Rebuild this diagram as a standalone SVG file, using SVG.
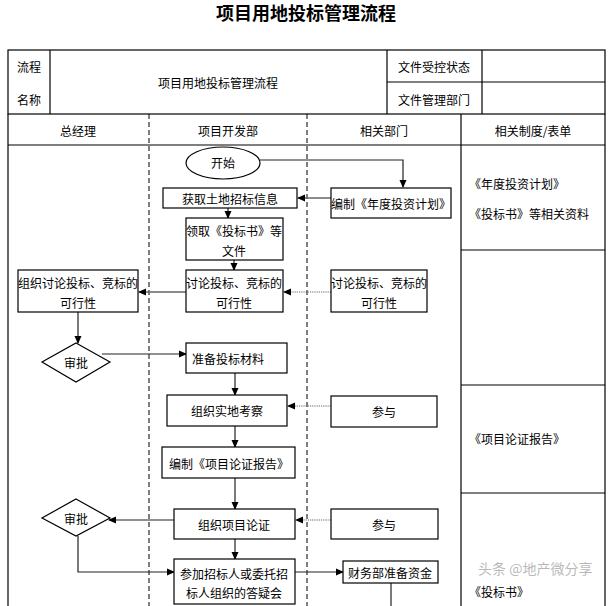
<svg xmlns="http://www.w3.org/2000/svg" width="613" height="606" viewBox="0 0 613 606">
<style>
.t{font-family:"Noto Sans CJK SC","Noto Sans",sans-serif;font-size:12px;fill:#000;text-anchor:middle;dominant-baseline:central}
.s{text-anchor:start}
.ttl{font-family:"Noto Sans CJK SC",serif;font-size:18px;font-weight:bold;fill:#000;text-anchor:middle;dominant-baseline:central}
.b{fill:#fff;stroke:#000;stroke-width:1.2}
.f{fill:none;stroke:#000;stroke-width:1.2}
.dash{fill:none;stroke:#000;stroke-width:1;stroke-dasharray:5,3}
.c{fill:none;stroke:#222;stroke-width:1.2}
.gc{fill:none;stroke:#666;stroke-width:1.4}
.dot{fill:none;stroke:#666;stroke-width:1.2;stroke-dasharray:1.2,1}
.wm{font-family:"Noto Sans CJK SC",sans-serif;font-size:14px;fill:#999;fill-opacity:0.7}
</style>
<defs>
<marker id="a" markerWidth="8" markerHeight="8" refX="7" refY="4" orient="auto" markerUnits="userSpaceOnUse"><path d="M0,0.5 L8,4 L0,7.5z" fill="#000"/></marker>
</defs>
<rect width="613" height="606" fill="#fff"/>
<text class="ttl" x="306" y="12">项目用地投标管理流程</text>

<g id="header">
<rect class="f" x="8" y="50" width="597" height="64"/>
<line class="f" x1="50" y1="50" x2="50" y2="114"/>
<line class="f" x1="387" y1="50" x2="387" y2="114"/>
<line class="f" x1="482" y1="50" x2="482" y2="114"/>
<line class="f" x1="387" y1="82" x2="605" y2="82"/>
<text class="t" x="29" y="66">流程</text>
<text class="t" x="29" y="99">名称</text>
<text class="t" x="218" y="82">项目用地投标管理流程</text>
<text class="t" x="434" y="66">文件受控状态</text>
<text class="t" x="434" y="99">文件管理部门</text>
</g>

<g id="lanes">
<line class="f" x1="8" y1="114" x2="8" y2="606"/>
<line class="f" x1="605" y1="114" x2="605" y2="606"/>
<line class="f" x1="461" y1="114" x2="461" y2="606"/>
<line class="f" x1="8" y1="145" x2="605" y2="145"/>
<line class="dash" x1="149" y1="114" x2="149" y2="606"/>
<line class="dash" x1="307" y1="114" x2="307" y2="606"/>
<line class="f" x1="461" y1="250" x2="605" y2="250"/>
<line class="f" x1="461" y1="385" x2="605" y2="385"/>
<line class="f" x1="461" y1="493" x2="605" y2="493"/>
<text class="t" x="78" y="130">总经理</text>
<text class="t" x="228" y="130">项目开发部</text>
<text class="t" x="384" y="130">相关部门</text>
<text class="t" x="533" y="130">相关制度/表单</text>
<text class="t s" x="469" y="183">《年度投资计划》</text>
<text class="t s" x="469" y="213">《投标书》等相关资料</text>
<text class="t s" x="469" y="438">《项目论证报告》</text>
<text class="t s" x="469" y="591">《投标书》</text>
</g>

<g id="connectors">
<polyline class="c" points="260,160 403,160 403,187" marker-end="url(#a)"/>
<line class="gc" x1="331" y1="198" x2="298" y2="198" marker-end="url(#a)"/>
<line class="c" x1="228" y1="208" x2="228" y2="218" marker-end="url(#a)"/>
<line class="c" x1="234" y1="260" x2="234" y2="270" marker-end="url(#a)"/>
<line class="dot" x1="331" y1="292" x2="284" y2="292" marker-end="url(#a)"/>
<line class="gc" x1="186" y1="292" x2="139" y2="292" marker-end="url(#a)"/>
<line class="c" x1="78" y1="312" x2="78" y2="343" marker-end="url(#a)"/>
<line class="c" x1="102" y1="354" x2="186" y2="354" marker-end="url(#a)"/>
<line class="c" x1="235" y1="373" x2="235" y2="395" marker-end="url(#a)"/>
<line class="dot" x1="331" y1="406" x2="288" y2="406" marker-end="url(#a)"/>
<line class="c" x1="235" y1="426" x2="235" y2="447" marker-end="url(#a)"/>
<line class="c" x1="235" y1="478" x2="235" y2="509" marker-end="url(#a)"/>
<line class="dot" x1="331" y1="520" x2="296" y2="520" marker-end="url(#a)"/>
<line class="c" x1="174" y1="520" x2="109" y2="520" marker-end="url(#a)"/>
<line class="c" x1="235" y1="539" x2="235" y2="559" marker-end="url(#a)"/>
<polyline class="c" points="78,536 78,572 174,572" marker-end="url(#a)"/>
<line class="c" x1="295" y1="572" x2="343" y2="572" marker-end="url(#a)"/>
<line class="c" x1="391" y1="583" x2="391" y2="606"/>
</g>

<g id="start"><ellipse class="b" cx="223" cy="163" rx="37" ry="16"/><text class="t" x="223" y="162">开始</text></g>
<g id="n_info"><rect class="b" x="163" y="188" width="134" height="20"/><text class="t" x="230" y="198">获取土地招标信息</text></g>
<g id="n_plan"><rect class="b" x="331" y="188" width="120" height="30"/><text class="t" x="391" y="203">编制《年度投资计划》</text></g>
<g id="n_docs"><rect class="b" x="186" y="218" width="97" height="42"/><text class="t" x="234" y="230">领取《投标书》等</text><text class="t" x="234" y="250">文件</text></g>
<g id="n_disc_mid"><rect class="b" x="186" y="270" width="97" height="42"/><text class="t" x="234" y="282">讨论投标、竞标的</text><text class="t" x="234" y="302">可行性</text></g>
<g id="n_disc_rel"><rect class="b" x="331" y="270" width="96" height="42"/><text class="t" x="379" y="282">讨论投标、竞标的</text><text class="t" x="379" y="302">可行性</text></g>
<g id="n_disc_gm"><rect class="b" x="18" y="270" width="120" height="42"/><text class="t" x="78" y="282">组织讨论投标、竞标的</text><text class="t" x="78" y="302">可行性</text></g>
<g id="d_approve1"><polygon class="b" points="76,343 110,362 76,382 42,362"/><text class="t" x="76" y="362">审批</text></g>
<g id="n_prep"><rect class="b" x="186" y="343" width="101" height="30"/><text class="t" x="228" y="358">准备投标材料</text></g>
<g id="n_site"><rect class="b" x="167" y="395" width="120" height="31"/><text class="t" x="227" y="410">组织实地考察</text></g>
<g id="n_join1"><rect class="b" x="331" y="396" width="106" height="31"/><text class="t" x="384" y="411">参与</text></g>
<g id="n_report"><rect class="b" x="162" y="447" width="133" height="31"/><text class="t" x="229" y="463">编制《项目论证报告》</text></g>
<g id="n_demo"><rect class="b" x="174" y="509" width="121" height="30"/><text class="t" x="234" y="524">组织项目论证</text></g>
<g id="n_join2"><rect class="b" x="331" y="509" width="107" height="30"/><text class="t" x="384" y="524">参与</text></g>
<g id="d_approve2"><polygon class="b" points="76,499 110,518 76,536 42,518"/><text class="t" x="76" y="518">审批</text></g>
<g id="n_meeting"><rect class="b" x="174" y="559" width="121" height="45"/><text class="t" x="234" y="573">参加招标人或委托招</text><text class="t" x="234" y="592">标人组织的答疑会</text></g>
<g id="n_fund"><rect class="b" x="343" y="561" width="95" height="22"/><text class="t" x="390" y="572">财务部准备资金</text></g>
<text class="wm" x="478" y="574">头条 @地产微分享</text>
</svg>
